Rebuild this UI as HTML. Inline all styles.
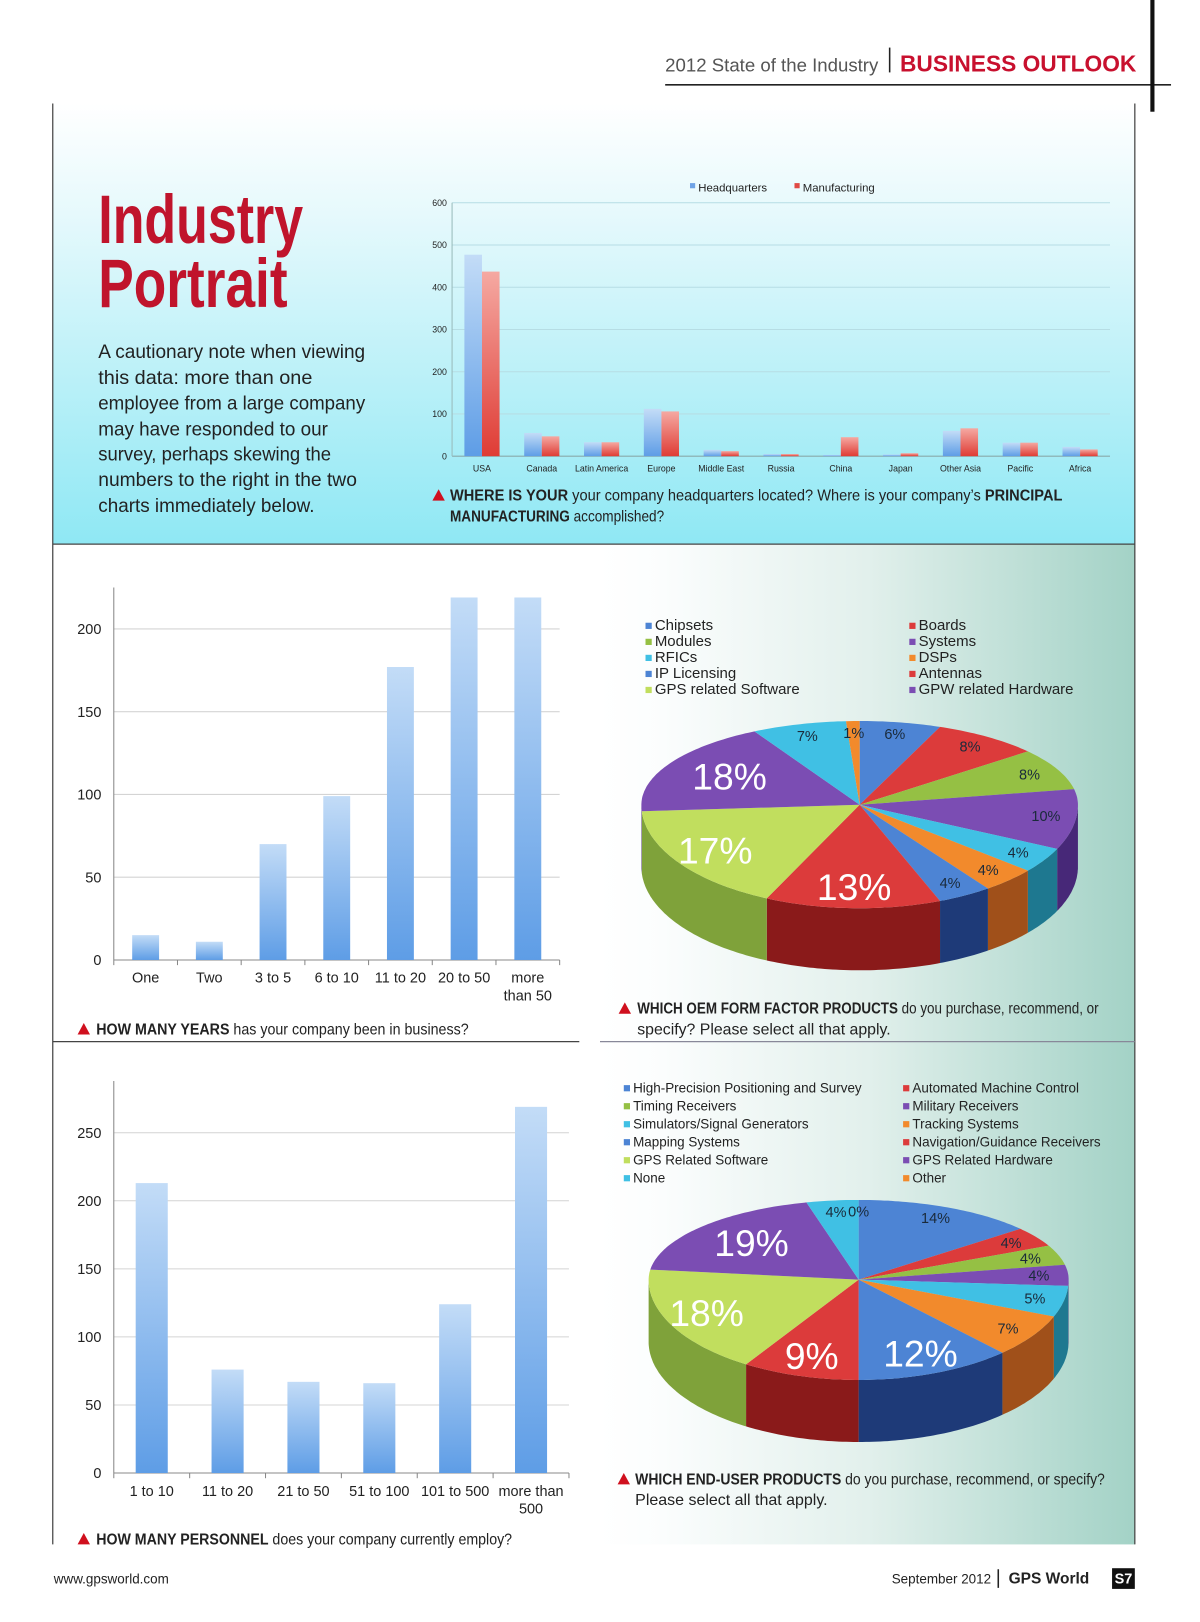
<!DOCTYPE html>
<html><head><meta charset="utf-8"><title>Industry Portrait</title>
<style>
html,body{margin:0;padding:0;background:#fff;width:1200px;height:1622px;overflow:hidden}
svg{display:block}
text{font-family:"Liberation Sans",sans-serif}
.nar{font-family:"Liberation Sans Narrow","Liberation Sans",sans-serif}
</style></head>
<body>
<svg id="page" xmlns="http://www.w3.org/2000/svg" width="1200" height="1622" viewBox="0 0 1160 1568" preserveAspectRatio="none">
<defs>
<linearGradient id="topbg" x1="0" y1="0" x2="0" y2="1"><stop offset="0" stop-color="#ffffff"/><stop offset="0.25" stop-color="#e6f9fc"/><stop offset="1" stop-color="#8fe8f4"/></linearGradient>
<linearGradient id="rightbg" x1="0" y1="0" x2="1" y2="0"><stop offset="0" stop-color="#ffffff"/><stop offset="0.12" stop-color="#fbfdfd"/><stop offset="0.5" stop-color="#e2f0ec"/><stop offset="1" stop-color="#a3d2c6"/></linearGradient>
<linearGradient id="blueBar" x1="0" y1="0" x2="0" y2="1"><stop offset="0" stop-color="#c3dcf7"/><stop offset="1" stop-color="#5e9de6"/></linearGradient>
<linearGradient id="redBar" x1="0" y1="0" x2="0" y2="1"><stop offset="0" stop-color="#f5a9a2"/><stop offset="1" stop-color="#df3c35"/></linearGradient>
</defs>

<rect x="51" y="100" width="1046" height="426" fill="url(#topbg)"/>
<rect x="580" y="526" width="517" height="967" fill="url(#rightbg)"/>

<g>
<text x="643" y="69" font-size="18" fill="#555">2012 State of the Industry</text>
<line x1="860" y1="46" x2="860" y2="70" stroke="#222" stroke-width="1.5"/>
<text x="870" y="69" font-size="22" font-weight="bold" fill="#c8102e">BUSINESS OUTLOOK</text>
<line x1="643" y1="82" x2="1132" y2="82" stroke="#222" stroke-width="1.5"/>
<rect x="1112" y="0" width="4" height="108" fill="#111"/>
</g>

<g stroke="#444" stroke-width="1.2">
<line x1="51" y1="100" x2="51" y2="1493"/>
<line x1="1097" y1="100" x2="1097" y2="1493"/>
<line x1="51" y1="526" x2="1097" y2="526"/>
<line x1="51" y1="1007" x2="560" y2="1007"/>
<line x1="580" y1="1007" x2="1097" y2="1007" stroke="#889"/>
</g>

<g>
<text class="nar" x="95" y="235" font-size="66" font-weight="bold" fill="#c0142c" textLength="198" lengthAdjust="spacingAndGlyphs">Industry</text>
<text class="nar" x="95" y="297" font-size="66" font-weight="bold" fill="#c0142c" textLength="183" lengthAdjust="spacingAndGlyphs">Portrait</text>
</g>
<g font-size="19" fill="#222">
<text x="95" y="346" textLength="258" lengthAdjust="spacingAndGlyphs">A cautionary note when viewing</text>
<text x="95" y="371" textLength="207" lengthAdjust="spacingAndGlyphs">this data: more than one</text>
<text x="95" y="396" textLength="258" lengthAdjust="spacingAndGlyphs">employee from a large company</text>
<text x="95" y="421" textLength="222" lengthAdjust="spacingAndGlyphs">may have responded to our</text>
<text x="95" y="445" textLength="225" lengthAdjust="spacingAndGlyphs">survey, perhaps skewing the</text>
<text x="95" y="470" textLength="250" lengthAdjust="spacingAndGlyphs">numbers to the right in the two</text>
<text x="95" y="495" textLength="209" lengthAdjust="spacingAndGlyphs">charts immediately below.</text>
</g>

<g id="geoChart"></g>
<g font-size="15" fill="#222">
<path d="M418 484 L424 473 L430 484 Z" fill="#d0101e"/>
<text x="435" y="484" textLength="592" lengthAdjust="spacingAndGlyphs"><tspan class="nar" font-weight="bold">WHERE IS YOUR</tspan> your company headquarters located? Where is your company’s <tspan class="nar" font-weight="bold">PRINCIPAL</tspan></text>
<text x="435" y="504" textLength="207" lengthAdjust="spacingAndGlyphs"><tspan class="nar" font-weight="bold">MANUFACTURING</tspan> accomplished?</text>
</g>

<g id="yearsChart"></g>
<g font-size="15" fill="#222">
<path d="M75 1000 L81 989 L87 1000 Z" fill="#d0101e"/>
<text x="93" y="1000" textLength="360" lengthAdjust="spacingAndGlyphs"><tspan class="nar" font-weight="bold">HOW MANY YEARS</tspan> has your company been in business?</text>
</g>

<g id="staffChart"></g>
<g font-size="15" fill="#222">
<path d="M75 1493 L81 1482 L87 1493 Z" fill="#d0101e"/>
<text x="93" y="1493" textLength="402" lengthAdjust="spacingAndGlyphs"><tspan class="nar" font-weight="bold">HOW MANY PERSONNEL</tspan> does your company currently employ?</text>
</g>

<g id="pie1"></g>
<g font-size="15" fill="#222">
<path d="M598 980 L604 969 L610 980 Z" fill="#d0101e"/>
<text x="616" y="980" textLength="446" lengthAdjust="spacingAndGlyphs"><tspan class="nar" font-weight="bold">WHICH OEM FORM FACTOR PRODUCTS</tspan> do you purchase, recommend, or</text>
<text x="616" y="1000" textLength="245" lengthAdjust="spacingAndGlyphs">specify? Please select all that apply.</text>
</g>

<g id="pie2"></g>
<g font-size="15" fill="#222">
<path d="M597 1435 L603 1424 L609 1435 Z" fill="#d0101e"/>
<text x="614" y="1435" textLength="454" lengthAdjust="spacingAndGlyphs"><tspan class="nar" font-weight="bold">WHICH END-USER PRODUCTS</tspan> do you purchase, recommend, or specify?</text>
<text x="614" y="1455" textLength="186" lengthAdjust="spacingAndGlyphs">Please select all that apply.</text>
</g>

<g>
<text x="52" y="1531" font-size="13" fill="#222">www.gpsworld.com</text>
<text x="862" y="1531" font-size="13" fill="#222">September 2012</text>
<line x1="965" y1="1517" x2="965" y2="1535" stroke="#222" stroke-width="1.5"/>
<text x="975" y="1531" font-size="15" font-weight="bold" fill="#222">GPS World</text>
<rect x="1075" y="1516" width="22" height="20" fill="#111"/>
<text x="1086" y="1531" font-size="14" font-weight="bold" fill="#fff" text-anchor="middle">S7</text>
</g>
</svg>

<script>
const NS = "http://www.w3.org/2000/svg";
// ---- Location chart data ----
const geoCats = ["USA","Canada","Latin America","Europe","Middle East","Russia","China","Japan","Other Asia","Pacific","Africa"];
const hqVals = [477,55,33,112,15,5,3,4,60,32,22];
const mfgVals = [437,47,33,106,12,5,45,7,66,32,16];
const geoTicks = [0,100,200,300,400,500,600];
// ---- Years chart data ----
const yearCats = [["One"],["Two"],["3 to 5"],["6  to 10"],["11 to 20"],["20 to 50"],["more","than 50"]];
const yearVals = [15,11,70,99,177,219,219];
const yearTicks = [0,50,100,150,200];
// ---- Personnel chart data ----
const staffCats = [["1 to 10"],["11 to 20"],["21 to 50"],["51 to 100"],["101 to 500"],["more than","500"]];
const staffVals = [213,76,67,66,124,269];
const staffTicks = [0,50,100,150,200,250];
// ---- Pie 1 data ----
const pie1Legend = ["Chipsets","Modules","RFICs","IP Licensing","GPS related Software","Boards","Systems","DSPs","Antennas","GPW related Hardware"];
const pie1Vals = [6,8,8,10,4,4,4,13,17,18,7,1];
// ---- Pie 2 data ----
const pie2Legend = ["High-Precision Positioning and Survey","Timing Receivers","Simulators/Signal Generators","Mapping Systems","GPS Related Software","None","Automated Machine Control","Military Receivers","Tracking Systems","Navigation/Guidance Receivers","GPS Related Hardware","Other"];
const pie2Vals = [14,4,4,4,5,7,12,9,18,19,4,0];

function mk(tag, parent) { const e = document.createElementNS(NS, tag); parent.appendChild(e); return e; }
function txt(parent, x, y, s, size, anchor, fill) {
  const t = mk("text", parent);
  t.setAttribute("x", x); t.setAttribute("y", y); t.setAttribute("font-size", size);
  t.setAttribute("text-anchor", anchor); t.setAttribute("fill", fill || "#222");
  t.textContent = s; return t;
}

// ===== Location chart =====
(function(){
  const g = document.getElementById("geoChart");
  const x0 = 437, x1 = 1073, yb = 441, yt = 196, vmax = 600;
  const y = v => yb - v * (yb - yt) / vmax;
  const band = (x1 - x0) / geoCats.length;
  geoTicks.forEach(t => {
    const l = mk("line", g);
    
    
    l.setAttribute("x1", x0); l.setAttribute("x2", x1); l.setAttribute("y1", y(t)); l.setAttribute("y2", y(t));
    l.setAttribute("stroke", t === 0 ? "#8aa" : "#b6dde4"); l.setAttribute("stroke-width", 1);
    const tl = txt(g, x0 - 5, y(t) + 3, String(t), 8.5, "end");
    
    
  });
  const ax = mk("line", g);
  
  
  ax.setAttribute("x1", x0); ax.setAttribute("x2", x0); ax.setAttribute("y1", yt); ax.setAttribute("y2", yb); ax.setAttribute("stroke", "#9bb");
  geoCats.forEach((c, i) => {
    const cx = x0 + (i + 0.5) * band, w = 17;
    const b1 = mk("rect", g);
    
    
    b1.setAttribute("x", cx - w); b1.setAttribute("width", w); b1.setAttribute("y", y(hqVals[i])); b1.setAttribute("height", yb - y(hqVals[i])); b1.setAttribute("fill", "url(#blueBar)");
    const b2 = mk("rect", g);
    
    
    b2.setAttribute("x", cx); b2.setAttribute("width", w); b2.setAttribute("y", y(mfgVals[i])); b2.setAttribute("height", yb - y(mfgVals[i])); b2.setAttribute("fill", "url(#redBar)");
    const lb = txt(g, cx, yb + 15, c, 8.5, "middle");
    
    
  });
  const lg = mk("g", g);
  
  
  const s1 = mk("rect", lg); s1.setAttribute("x", 667); s1.setAttribute("y", 177); s1.setAttribute("width", 5); s1.setAttribute("height", 5); s1.setAttribute("fill", "#6fa3e6");
  const t1 = txt(lg, 675, 185, "Headquarters", 11, "start");
  
  
  const s2 = mk("rect", lg); s2.setAttribute("x", 768); s2.setAttribute("y", 177); s2.setAttribute("width", 5); s2.setAttribute("height", 5); s2.setAttribute("fill", "#e04a44");
  const t2 = txt(lg, 776, 185, "Manufacturing", 11, "start");
  
  
})();

// ===== Generic vertical bar chart =====
function barChart(id, cats, vals, ticks, x0, x1, yb, ytick, vTick, ytop, bw, prefix) {
  const g = document.getElementById(id);
  const y = v => yb - v * (yb - ytick) / vTick;
  const band = (x1 - x0) / cats.length;
  ticks.forEach(t => {
    const l = mk("line", g);
    
    
    l.setAttribute("x1", x0); l.setAttribute("x2", x1); l.setAttribute("y1", y(t)); l.setAttribute("y2", y(t));
    l.setAttribute("stroke", t === 0 ? "#888" : "#d4d4d4");
    const tl = txt(g, x0 - 12, y(t) + 5, String(t), 14, "end");
    
    
  });
  const ax = mk("line", g);
  
  
  ax.setAttribute("x1", x0); ax.setAttribute("x2", x0); ax.setAttribute("y1", ytop); ax.setAttribute("y2", yb); ax.setAttribute("stroke", "#888");
  for (let i = 0; i <= cats.length; i++) {
    const tk = mk("line", g);
    
    
    tk.setAttribute("x1", x0 + i * band); tk.setAttribute("x2", x0 + i * band); tk.setAttribute("y1", yb); tk.setAttribute("y2", yb + 5); tk.setAttribute("stroke", "#888");
  }
  cats.forEach((c, i) => {
    const cx = x0 + (i + 0.5) * band;
    const b = mk("rect", g);
    
    
    b.setAttribute("x", cx - bw / 2); b.setAttribute("width", bw); b.setAttribute("y", y(vals[i])); b.setAttribute("height", yb - y(vals[i])); b.setAttribute("fill", "url(#blueBar)");
    c.forEach((line, k) => {
      const lb = txt(g, cx, yb + 22 + k * 17, line, 14, "middle");
      
      
    });
  });
}
barChart("yearsChart", yearCats, yearVals, yearTicks, 110, 541, 928, 608, 200, 568, 26, "years");
barChart("staffChart", staffCats, staffVals, staffTicks, 110, 550, 1424, 1095, 250, 1045, 31, "personnel");

// ===== 3D pies =====
const topCols = ["#4d84d4","#dc3b3b","#95c044","#7b4db3","#40c0e4","#f28a2c","#4d84d4","#dc3b3b","#c1de5e","#7b4db3","#40c0e4","#f28a2c"];
const sideCols = ["#1e3a78","#8a1a1a","#5f8a22","#472878","#1e7890","#a0501a","#1e3a78","#8a1a1a","#7fa23a","#472878","#1e7890","#a0501a"];
function pie(id, vals, cx, cy, rx, ryT, ryB, depth, isBig, legend, lx1, lx2, ly, lstep, lsize, prefix) {
  const g = document.getElementById(id);
  const pt = (tdeg, dy, f) => {
    const t = tdeg * Math.PI / 180, c = Math.cos(t);
    return [cx + rx * f * Math.sin(t), cy + dy - (c > 0 ? ryT : ryB) * f * c];
  };
  const total = vals.reduce((a, b) => a + b, 0);
  let cum = 0;
  const spans = vals.map(v => { const a = cum / total * 360; cum += v; return [a, cum / total * 360]; });
  spans.forEach((s, i) => {
    const a = Math.max(s[0], 90), b = Math.min(s[1], 270);
    if (b <= a) return;
    const pts = [];
    for (let t = a; t <= b; t += 1) pts.push(pt(t, 0, 1));
    pts.push(pt(b, 0, 1));
    const back = [];
    for (let t = b; t >= a; t -= 1) back.push(pt(t, depth, 1));
    back.push(pt(a, depth, 1));
    const p = mk("polygon", g);
    
    
    p.setAttribute("points", pts.concat(back).map(q => q[0].toFixed(1) + "," + q[1].toFixed(1)).join(" "));
    p.setAttribute("fill", sideCols[i % 12]);
  });
  spans.forEach((s, i) => {
    if (s[1] - s[0] <= 0) return;
    const pts = [[cx, cy]];
    for (let t = s[0]; t <= s[1]; t += 1) pts.push(pt(t, 0, 1));
    pts.push(pt(s[1], 0, 1));
    const p = mk("polygon", g);
    
    
    p.setAttribute("points", pts.map(q => q[0].toFixed(1) + "," + q[1].toFixed(1)).join(" "));
    p.setAttribute("fill", topCols[i % 12]);
  });
  spans.forEach((s, i) => {
    const v = vals[i], big = isBig(v);
    const mid = (s[0] + s[1]) / 2;
    const lower = Math.cos(mid * Math.PI / 180) < 0;
    const f = big ? (lower ? 0.8 : 0.68) : 0.86;
    const q = pt(mid, 0, f);
    const t = txt(g, q[0], q[1] + (big ? 12 : 5), v + "%", big ? 36 : 14, "middle", big ? "#fff" : "#1a2a3a");
    
    
  });
  const half = Math.ceil(legend.length / 2);
  legend.forEach((name, i) => {
    const col = i < half ? 0 : 1, row = i % half;
    const x = col === 0 ? lx1 : lx2, y = ly + row * lstep;
    const colorIdx = col === 0 ? [0,2,4,6,8,10][row] : [1,3,5,7,9,11][row];
    const sq = mk("rect", g);
    
    
    sq.setAttribute("x", x); sq.setAttribute("y", y - 7); sq.setAttribute("width", 6); sq.setAttribute("height", 6); sq.setAttribute("fill", topCols[colorIdx]);
    const t = txt(g, x + 9, y, name, lsize, "start", "#222");
    
    
  });
}
pie("pie1", pie1Vals, 831, 778, 211, 81, 100, 60, v => v >= 13, pie1Legend, 624, 879, 609, 15.5, 14.5, "oem");
pie("pie2", pie2Vals, 830, 1237, 203, 77, 97, 60, v => v >= 9 && v !== 14, pie2Legend, 603, 873, 1056, 17.4, 13, "end-user");
</script>
</body></html>
